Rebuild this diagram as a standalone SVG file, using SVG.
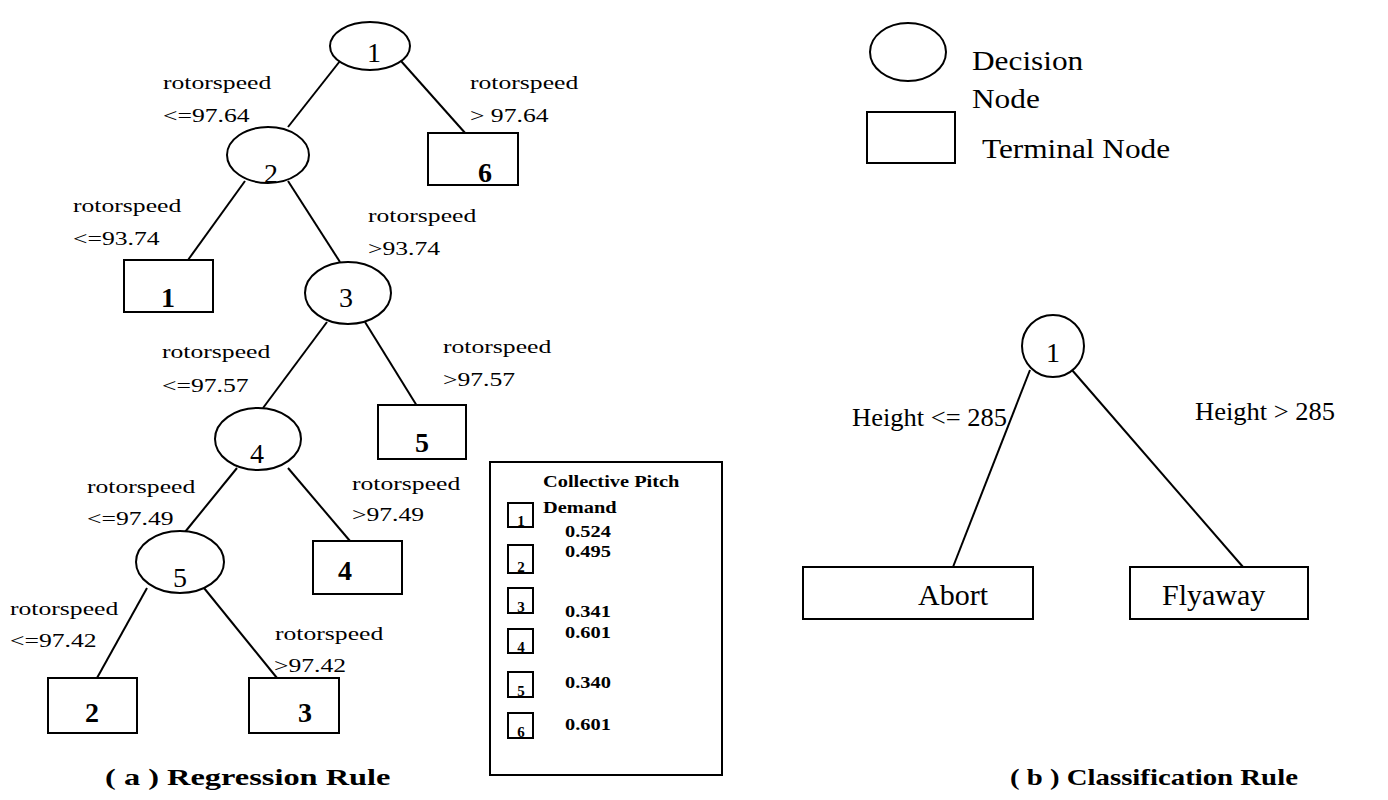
<svg xmlns="http://www.w3.org/2000/svg" width="1388" height="800" viewBox="0 0 1388 800">
<style>
.bg{fill:#fff}
.sh{fill:#fff;stroke:#000;stroke-width:2}
.ln{stroke:#000;stroke-width:2;fill:none}
.lab{font-family:"Liberation Serif","Times New Roman",serif;font-size:19px;fill:#000}
.num{font-family:"Liberation Serif","Times New Roman",serif;font-size:28px;fill:#000;text-anchor:middle}
.tnum{font-family:"Liberation Serif","Times New Roman",serif;font-size:28px;font-weight:bold;fill:#000;text-anchor:middle}
.leg{font-family:"Liberation Serif","Times New Roman",serif;font-size:17px;font-weight:bold;fill:#000}
.snum{font-family:"Liberation Serif","Times New Roman",serif;font-size:15px;font-weight:bold;fill:#000;text-anchor:middle}
.key{font-family:"Liberation Serif","Times New Roman",serif;font-size:27px;fill:#000}
.bl{font-family:"Liberation Serif","Times New Roman",serif;font-size:25px;fill:#000}
.bt{font-family:"Liberation Serif","Times New Roman",serif;font-size:30px;fill:#000}
.cap{font-family:"Liberation Serif","Times New Roman",serif;font-size:24px;font-weight:bold;fill:#000}
</style>
<rect class="bg" x="0" y="0" width="1388" height="800"/>

<g id="connectors">
<line class="ln" x1="340" y1="61" x2="288" y2="127"/>
<line class="ln" x1="401" y1="61" x2="466" y2="134"/>
<line class="ln" x1="245" y1="181" x2="188" y2="260"/>
<line class="ln" x1="288" y1="181" x2="340" y2="262"/>
<line class="ln" x1="327" y1="322" x2="263" y2="408"/>
<line class="ln" x1="365" y1="322" x2="417" y2="406"/>
<line class="ln" x1="237" y1="468" x2="185" y2="532"/>
<line class="ln" x1="288" y1="468" x2="350" y2="541"/>
<line class="ln" x1="147" y1="588" x2="97" y2="678"/>
<line class="ln" x1="204" y1="588" x2="277" y2="678"/>
<line class="ln" x1="1030" y1="370" x2="953" y2="567"/>
<line class="ln" x1="1072" y1="370" x2="1243" y2="567"/>
</g>

<g id="edge-labels">
<text class="lab" transform="matrix(1.35 0 0 1 163 89)">rotorspeed</text>
<text class="lab" transform="matrix(1.35 0 0 1 163 122)">&lt;=97.64</text>
<text class="lab" transform="matrix(1.35 0 0 1 470 89)">rotorspeed</text>
<text class="lab" transform="matrix(1.35 0 0 1 470 122)">&gt; 97.64</text>
<text class="lab" transform="matrix(1.35 0 0 1 73 212)">rotorspeed</text>
<text class="lab" transform="matrix(1.35 0 0 1 73 245)">&lt;=93.74</text>
<text class="lab" transform="matrix(1.35 0 0 1 368 222)">rotorspeed</text>
<text class="lab" transform="matrix(1.35 0 0 1 368 255)">&gt;93.74</text>
<text class="lab" transform="matrix(1.35 0 0 1 162 358)">rotorspeed</text>
<text class="lab" transform="matrix(1.35 0 0 1 162 392)">&lt;=97.57</text>
<text class="lab" transform="matrix(1.35 0 0 1 443 353)">rotorspeed</text>
<text class="lab" transform="matrix(1.35 0 0 1 443 386)">&gt;97.57</text>
<text class="lab" transform="matrix(1.35 0 0 1 87 493)">rotorspeed</text>
<text class="lab" transform="matrix(1.35 0 0 1 87 525)">&lt;=97.49</text>
<text class="lab" transform="matrix(1.35 0 0 1 352 490)">rotorspeed</text>
<text class="lab" transform="matrix(1.35 0 0 1 352 521)">&gt;97.49</text>
<text class="lab" transform="matrix(1.35 0 0 1 10 615)">rotorspeed</text>
<text class="lab" transform="matrix(1.35 0 0 1 10 647)">&lt;=97.42</text>
<text class="lab" transform="matrix(1.35 0 0 1 275 640)">rotorspeed</text>
<text class="lab" transform="matrix(1.35 0 0 1 274 672)">&gt;97.42</text>
<text class="bl" transform="matrix(1.06 0 0 1 852 426)">Height &lt;= 285</text>
<text class="bl" transform="matrix(1.06 0 0 1 1195 420)">Height &gt; 285</text>
</g>

<g id="n-d1"><ellipse class="sh" cx="370" cy="46" rx="40" ry="24"/><text class="num" x="374" y="62">1</text></g>
<g id="n-d2"><ellipse class="sh" cx="268" cy="155" rx="41" ry="28"/><text class="num" x="271" y="183">2</text></g>
<g id="n-d3"><ellipse class="sh" cx="348" cy="293" rx="43" ry="31"/><text class="num" x="346" y="307">3</text></g>
<g id="n-d4"><ellipse class="sh" cx="258" cy="439" rx="43" ry="31"/><text class="num" x="257" y="463">4</text></g>
<g id="n-d5"><ellipse class="sh" cx="180" cy="562" rx="44" ry="31"/><text class="num" x="180" y="587">5</text></g>

<g id="n-t6"><rect class="sh" x="428" y="133" width="90" height="52"/><text class="tnum" x="485" y="182">6</text></g>
<g id="n-t1"><rect class="sh" x="124" y="260" width="89" height="52"/><text class="tnum" x="168" y="307">1</text></g>
<g id="n-t5"><rect class="sh" x="378" y="405" width="88" height="54"/><text class="tnum" x="422" y="452">5</text></g>
<g id="n-t4"><rect class="sh" x="313" y="541" width="89" height="53"/><text class="tnum" x="345" y="580">4</text></g>
<g id="n-t2"><rect class="sh" x="48" y="678" width="89" height="55"/><text class="tnum" x="92" y="722">2</text></g>
<g id="n-t3"><rect class="sh" x="249" y="678" width="90" height="55"/><text class="tnum" x="305" y="722">3</text></g>

<g id="legend-values">
<rect class="sh" x="490" y="462" width="232" height="313"/>
<text class="leg" transform="matrix(1.2 0 0 1 543 487)">Collective Pitch</text>
<text class="leg" transform="matrix(1.2 0 0 1 543 513)">Demand</text>
<rect class="sh" x="508" y="503" width="25" height="24"/><text class="snum" x="521" y="526">1</text>
<rect class="sh" x="508" y="545" width="25" height="28"/><text class="snum" x="521" y="572">2</text>
<rect class="sh" x="508" y="588" width="25" height="25"/><text class="snum" x="521" y="612">3</text>
<rect class="sh" x="508" y="629" width="25" height="24"/><text class="snum" x="521" y="652">4</text>
<rect class="sh" x="508" y="672" width="25" height="25"/><text class="snum" x="521" y="696">5</text>
<rect class="sh" x="508" y="713" width="25" height="25"/><text class="snum" x="521" y="737">6</text>
<text class="leg" transform="matrix(1.2 0 0 1 565 537)">0.524</text>
<text class="leg" transform="matrix(1.2 0 0 1 565 557)">0.495</text>
<text class="leg" transform="matrix(1.2 0 0 1 565 617)">0.341</text>
<text class="leg" transform="matrix(1.2 0 0 1 565 638)">0.601</text>
<text class="leg" transform="matrix(1.2 0 0 1 565 688)">0.340</text>
<text class="leg" transform="matrix(1.2 0 0 1 565 730)">0.601</text>
</g>

<g id="legend-key">
<ellipse class="sh" cx="908" cy="52" rx="38" ry="29"/>
<text class="key" transform="matrix(1.16 0 0 1 972 70)">Decision</text>
<text class="key" transform="matrix(1.16 0 0 1 972 108)">Node</text>
<rect class="sh" x="867" y="112" width="88" height="51"/>
<text class="key" transform="matrix(1.16 0 0 1 982 158)">Terminal Node</text>
</g>

<g id="b-d1"><ellipse class="sh" cx="1053" cy="346" rx="31" ry="31"/><text class="num" x="1053" y="362">1</text></g>
<g id="b-abort"><rect class="sh" x="803" y="567" width="230" height="52"/><text class="bt" x="918" y="605">Abort</text></g>
<g id="b-flyaway"><rect class="sh" x="1130" y="567" width="178" height="52"/><text class="bt" x="1162" y="605">Flyaway</text></g>

<g id="captions">
<text class="cap" transform="matrix(1.35 0 0 1 105 785)">( a ) Regression Rule</text>
<text class="cap" transform="matrix(1.2 0 0 1 1010 785)">( b ) Classification Rule</text>
</g>
</svg>
